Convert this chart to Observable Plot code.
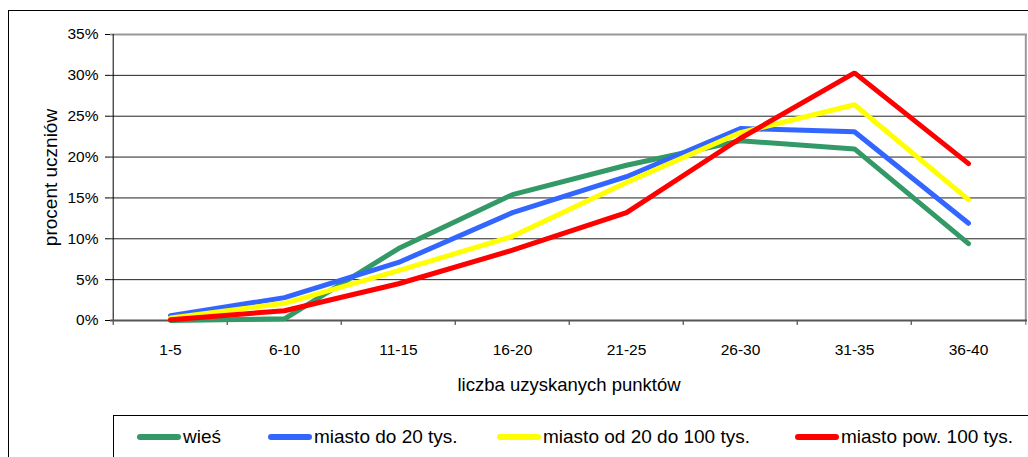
<!DOCTYPE html>
<html><head><meta charset="utf-8">
<script src="https://cdn.jsdelivr.net/npm/d3@7"></script>
<script src="https://cdn.jsdelivr.net/npm/@observablehq/plot@0.6"></script>
<style>
body{margin:0;background:#fff;font-family:"Liberation Sans",Arial,sans-serif;}
#wrap{position:relative;width:1028px;height:457px;overflow:hidden;}
#outer{position:absolute;left:8px;top:10px;width:1100px;height:500px;border:1px solid #000;}
#chart{position:absolute;left:0;top:0;}
#legend{position:absolute;left:113px;top:415px;width:1000px;height:100px;border:1px solid #000;background:#fff;}
.item{position:absolute;top:11px;font-size:19px;line-height:20px;white-space:nowrap;}
.sw{display:inline-block;width:44px;height:6px;border-radius:3px;vertical-align:middle;margin-right:2px;position:relative;top:-1px;}
</style></head>
<body>
<div id="wrap"><div id="outer"></div><div id="chart"></div><div id="legend"></div></div>
<script>
const categories = ["1-5","6-10","11-15","16-20","21-25","26-30","31-35","36-40"];
const seriesNames = ["wieś","miasto do 20 tys.","miasto od 20 do 100 tys.","miasto pow. 100 tys."];
const wies   = [0.000,0.002,0.088,0.154,0.190,0.220,0.210,0.094];
const do20   = [0.006,0.028,0.071,0.132,0.176,0.235,0.231,0.119];
const od20   = [0.003,0.021,0.061,0.103,0.169,0.230,0.264,0.148];
const pow100 = [0.001,0.012,0.045,0.086,0.132,0.223,0.303,0.192];
const colors = ["#339966","#3366FF","#FFFF00","#FF0000"];
const yTicks = [0,0.05,0.10,0.15,0.20,0.25,0.30,0.35];

const seriesValues = [wies, do20, od20, pow100];
const rows = seriesNames.flatMap((s,i)=>categories.map((c,j)=>({series:s, cat:c, v:seriesValues[i][j]})));

const W = 1028, ML = 110, MR = 1, MT = 34, H = 405, MB = 85;
const half = (W - ML - MR) / categories.length / 2;

const plot = Plot.plot({
  width: W, height: H,
  marginLeft: ML, marginRight: MR, marginTop: MT, marginBottom: MB,
  style: {fontFamily: '"Liberation Sans", Arial, sans-serif', fontSize: "15.5px", color: "#000", background: "transparent"},
  x: {type: "band", domain: categories, padding: 0},
  y: {domain: [0, 0.35]},
  color: {domain: seriesNames, range: colors},
  marks: [
    Plot.ruleY(yTicks.filter(d => d > 0 && d < 0.35), {stroke: "#222", strokeWidth: 1}),
    Plot.ruleY([0.35], {stroke: "#999", strokeWidth: 2}),
    Plot.ruleX([categories[categories.length-1]], {dx: half, stroke: "#999", strokeWidth: 2}),
    Plot.ruleX(categories, {dx: -half, y1: 0, y2: -0.006, stroke: "#222", strokeWidth: 1}),
    Plot.ruleX([categories[categories.length-1]], {dx: half, y1: 0, y2: -0.006, stroke: "#666", strokeWidth: 1}),
    Plot.axisX({tickSize: 0, tickPadding: 23, fontSize: 15.5, label: "liczba uzyskanych punktów", labelAnchor: "center", labelArrow: "none", labelOffset: 70}),
    Plot.axisY({ticks: yTicks, tickFormat: d3.format(".0%"), tickSize: 5, tickPadding: 7, fontSize: 15.5, label: "procent uczniów", labelAnchor: "center", labelArrow: "none", labelOffset: 67}),
    Plot.ruleX([categories[0]], {dx: -half, stroke: "#000", strokeWidth: 1}),
    Plot.ruleY([0], {stroke: "#555", strokeWidth: 2}),
    Plot.line(rows, {x: "cat", y: "v", z: "series", stroke: "series", strokeWidth: 5, strokeLinejoin: "miter", strokeLinecap: "round"})
  ]
});
plot.querySelectorAll("g[aria-label='x-axis label'] text, g[aria-label='y-axis label'] text").forEach(t => {
  t.setAttribute("font-size", t.closest("g[aria-label='x-axis label']") ? "18.5" : "19");
  t.textContent = t.textContent.replace(/[\u2190-\u2193]/g, "").trim();
});
document.getElementById("chart").appendChild(plot);

const legend = document.getElementById("legend");
const lefts = [23, 154, 383, 681];
seriesNames.forEach((s,i) => {
  const d = document.createElement("div");
  d.className = "item";
  d.style.left = lefts[i] + "px";
  d.innerHTML = `<span class="sw" style="background:${colors[i]}"></span>`;
  d.appendChild(document.createTextNode(s));
  legend.appendChild(d);
});
</script>
</body></html>
